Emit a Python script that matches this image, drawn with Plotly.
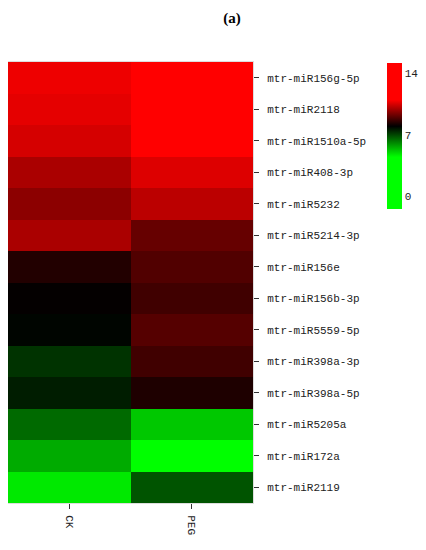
import plotly.graph_objects as go

# miRNA names, top to bottom
mirnas = [
    "mtr-miR156g-5p", "mtr-miR2118", "mtr-miR1510a-5p", "mtr-miR408-3p",
    "mtr-miR5232", "mtr-miR5214-3p", "mtr-miR156e", "mtr-miR156b-3p",
    "mtr-miR5559-5p", "mtr-miR398a-3p", "mtr-miR398a-5p", "mtr-miR5205a",
    "mtr-miR172a", "mtr-miR2119",
]
samples = ["CK", "PEG"]

# expression values
ck = [10.8, 10.7, 10.5, 10.0, 9.65, 10.0, 8.4, 8.05, 7.93, 7.3, 7.6, 6.55, 5.65, 4.8]
peg = [13.5, 12.8, 12.2, 10.6, 10.2, 9.2, 8.95, 8.75, 9.0, 8.75, 8.35, 5.25, 3.0, 6.85]

cbar_ticks = [0, 7, 14]

z = [[c, p] for c, p in zip(ck, peg)]

zmin, zmax = -1.4, 15.2
def stop(v):
    return (v - zmin) / (zmax - zmin)

colorscale = [
    [0.0, "rgb(0,255,0)"],
    [stop(4.5), "rgb(0,255,0)"],
    [stop(8.0), "rgb(0,0,0)"],
    [stop(11.0), "rgb(255,0,0)"],
    [1.0, "rgb(255,0,0)"],
]

mono = "Liberation Mono, DejaVu Sans Mono, monospace"

# page body has an 8px margin, so the figure is sized 8px smaller each way
W, H = 418, 542

fig = go.Figure(go.Heatmap(
    z=z,
    x=samples,
    y=mirnas,
    zmin=zmin,
    zmax=zmax,
    colorscale=colorscale,
    colorbar=dict(
        tickvals=cbar_ticks,
        ticks="",
        thickness=15,
        lenmode="pixels",
        len=146,
        x=1.547,
        xanchor="left",
        xpad=0,
        y=0.998,
        yanchor="top",
        ypad=0,
        outlinewidth=0,
        tickfont=dict(family=mono, size=11, color="#222"),
    ),
))

fig.update_layout(
    width=W,
    height=H,
    margin=dict(l=0, r=173, t=54, b=47, autoexpand=False),
    paper_bgcolor="white",
    plot_bgcolor="white",
    title=dict(
        text="<b>(a)</b>",
        x=(232 - 8) / W,
        xanchor="center",
        xref="container",
        y=1 - (18 - 8) / H,
        yanchor="middle",
        yref="container",
        font=dict(family="Liberation Serif", size=15, color="black"),
    ),
    xaxis=dict(
        side="bottom",
        tickangle=90,
        ticks="outside",
        ticklen=5,
        tickcolor="#333",
        ticklabelstandoff=4,
        tickfont=dict(family=mono, size=11, color="#222"),
        showline=True,
        linecolor="#ddd",
        mirror=True,
        showgrid=False,
        zeroline=False,
    ),
    yaxis=dict(
        side="right",
        autorange="reversed",
        ticks="outside",
        ticklen=5,
        tickcolor="#333",
        ticklabelstandoff=6,
        tickfont=dict(family=mono, size=11, color="#222"),
        showline=True,
        linecolor="#ddd",
        mirror=True,
        showgrid=False,
        zeroline=False,
    ),
)

fig.write_html("out.html")
